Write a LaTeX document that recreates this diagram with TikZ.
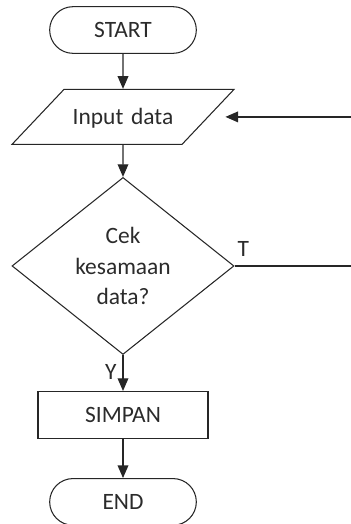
\documentclass[tikz,border=0pt]{standalone}
\usepackage{fontspec}
\setmainfont{Carlito}
\usetikzlibrary{shapes.geometric, arrows.meta, positioning}
\definecolor{flowline}{HTML}{262626}
\definecolor{flowtext}{HTML}{2B2B2B}

\begin{document}
\begin{tikzpicture}[
        node distance = 1cm,
        shape base/.style = {draw=flowline, line width=0.9pt, inner sep=0pt, align=center, text=flowtext, font=\fontsize{20}{26}\selectfont},
        terminal/.style = {shape base, rectangle, rounded corners=0.7cm, minimum width=4.4cm, minimum height=1.4cm},
        io/.style = {shape base, trapezium, trapezium left angle=46.6, trapezium right angle=133.4, text width=3.54cm, text height=1.05cm, text depth=0.6cm},
        decision/.style = {shape base, diamond, aspect=1.25, minimum width=6.66cm, minimum height=5.31cm},
        process/.style = {shape base, rectangle, minimum width=5.1cm, minimum height=1.41cm},
        label text/.style = {text=flowtext, font=\fontsize{20}{22}\selectfont, inner sep=1pt},
        arrow/.style = {draw=flowline, line width=1.1pt, -{Triangle[length=0.38cm, width=0.32cm]}}
    ]
        \useasboundingbox (0,0) rectangle (10.53,-15.72);
        \clip (0,0) rectangle (10.53,-15.72);

        % Flow
        \node (start) [terminal] at (3.69,-0.9) {START};
        \node (input) [io, below=1.05cm of start] {Input data};
        \node (check) [decision, below=0.96cm of input] {Cek\\kesamaan\\data?};
        \node (save) [process, below=1.08cm of check] {SIMPAN};
        \node (stop) [terminal, below=1.17cm of save] {END};

        % Labels
        \node (lblT) [label text, above right=0.25cm and 0.05cm of check.east] {T};
        \node (lblY) [label text, above left=0.3cm and 0.15cm of save.north] {Y};

        % Arrows
        \draw [arrow] (start) -- (input);
        \draw [arrow] (input) -- (check);
        \draw [arrow] (check) -- (save);
        \draw [arrow] (save) -- (stop);
        \draw [arrow, shorten >=0.5cm] (check.east) -- ++(3.7,0) |- (input.east);

\end{tikzpicture}
\end{document}
